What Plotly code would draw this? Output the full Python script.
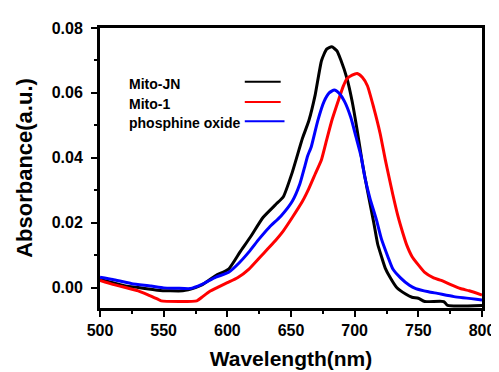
import plotly.graph_objects as go

series_names = ["Mito-JN", "Mito-1", "phosphine oxide"]
series_colors = ["#000000", "#ff0000", "#0000ff"]

jn_x = [500, 510, 520, 530, 545, 555, 565, 575, 580, 591, 601, 610, 618, 628, 638, 644, 651, 659, 664, 669, 674, 678,
        682, 686, 689, 694, 698, 702, 706, 710, 715, 718, 721, 724, 728, 733, 740, 745, 750, 755, 770, 773, 800]
jn_y = [0.0025, 0.0015, 0.0005, 0.0000, -0.0008, -0.0010, -0.0010, 0.0000, 0.0008, 0.0037, 0.0057, 0.0110, 0.0155,
        0.0216, 0.0256, 0.0280, 0.0355, 0.0460, 0.0514, 0.0594, 0.0700, 0.0735, 0.0742, 0.0730, 0.0703, 0.0644,
        0.0574, 0.0484, 0.0385, 0.0300, 0.0200, 0.0135, 0.0096, 0.0060, 0.0030, 0.0000, -0.0020, -0.0030, -0.0033,
        -0.0043, -0.0043, -0.0055, -0.0055]

m1_x = [500, 510, 520, 530, 538, 545, 548, 576, 580, 586, 592, 600, 608, 617, 626, 636, 644, 651, 659, 664, 669, 674,
        678, 682, 687, 691, 694, 698, 702, 706, 710, 715, 720, 724, 727, 730, 734, 738, 741, 745, 750, 755, 762, 768,
        775, 783, 790, 800]
m1_y = [0.0022, 0.0010, 0.0000, -0.0010, -0.0023, -0.0035, -0.0041, -0.0041, -0.0030, -0.0012, 0.0000, 0.0015,
        0.0030, 0.0057, 0.0095, 0.0137, 0.0175, 0.0216, 0.0266, 0.0305, 0.0350, 0.0395, 0.0455, 0.0514, 0.0574,
        0.0620, 0.0644, 0.0655, 0.0660, 0.0648, 0.0622, 0.0554, 0.0475, 0.0395, 0.0340, 0.0286, 0.0220, 0.0166,
        0.0130, 0.0096, 0.0070, 0.0047, 0.0030, 0.0022, 0.0010, -0.0003, -0.0010, -0.0023]

po_x = [500, 510, 525, 540, 550, 560, 571, 580, 591, 601, 609, 617, 625, 633, 642, 651, 657, 661, 663, 666, 671, 676,
        680, 684, 688, 692, 697, 701, 705, 708, 712, 717, 721, 726, 730, 736, 743, 748, 758, 765, 778, 800]
po_y = [0.0032, 0.0025, 0.0012, 0.0005, -0.0001, -0.0002, -0.0003, 0.0010, 0.0032, 0.0047, 0.0075, 0.0110, 0.0150,
        0.0186, 0.0220, 0.0266, 0.0320, 0.0376, 0.0405, 0.0435, 0.0514, 0.0574, 0.0600, 0.0609, 0.0598, 0.0574,
        0.0524, 0.0465, 0.0405, 0.0340, 0.0275, 0.0210, 0.0150, 0.0096, 0.0057, 0.0030, 0.0007, -0.0003, -0.0013,
        -0.0018, -0.0028, -0.0038]

x_range = [500, 800]
y_range = [-0.0063, 0.08]
x_ticks = [500, 550, 600, 650, 700, 750, 800]
y_ticks = [0.00, 0.02, 0.04, 0.06, 0.08]

FONT = "Liberation Sans, Arial, sans-serif"

fig = go.Figure()
for name, color, xs, ys in zip(series_names, series_colors, [jn_x, m1_x, po_x], [jn_y, m1_y, po_y]):
    fig.add_trace(go.Scatter(x=xs, y=ys, mode="lines", name=name,
                             line=dict(color=color, width=3, shape="spline", smoothing=0.5),
                             showlegend=False))

# custom legend: text on the left, line sample on the right
leg_y = [0.80, 0.728, 0.659]
leg_x_end = [0.473, 0.473, 0.483]
for name, color, yy, xe in zip(series_names, series_colors, leg_y, leg_x_end):
    fig.add_annotation(x=0.071, y=yy, xref="paper", yref="paper", text=name, showarrow=False,
                       xanchor="left", yanchor="middle",
                       font=dict(family=FONT, size=14, color="#000000", weight="bold"))
    fig.add_shape(type="line", xref="paper", yref="paper", x0=0.379, x1=xe, y0=yy + 0.008, y1=yy + 0.008,
                  line=dict(color=color, width=2))

fig.update_xaxes(range=x_range, tickvals=x_ticks, ticks="outside", ticklen=6, tickwidth=2, tickcolor="black",
                 showline=True, linewidth=3, linecolor="black", mirror=True, showgrid=False, zeroline=False,
                 tickfont=dict(family=FONT, size=16, color="black", weight="bold"),
                 minor=dict(dtick=25, ticks="outside", ticklen=3, tickwidth=2, tickcolor="black"),
                 title=dict(text="Wavelength(nm)", standoff=14,
                            font=dict(family=FONT, size=21, color="black", weight="bold")))
fig.update_yaxes(range=y_range, tickvals=y_ticks, tickformat=".2f", ticks="outside", ticklen=6, tickwidth=2,
                 tickcolor="black", showline=True, linewidth=3, linecolor="black", mirror=True, showgrid=False,
                 zeroline=False, ticklabelstandoff=5,
                 tickfont=dict(family=FONT, size=16, color="black", weight="bold"),
                 minor=dict(dtick=0.01, tick0=0, ticks="outside", ticklen=3, tickwidth=2, tickcolor="black"),
                 title=dict(text="Absorbance(a.u.)", standoff=13,
                            font=dict(family=FONT, size=22, color="black", weight="bold")))

fig.update_layout(width=499, height=372, margin=dict(l=92, r=14, t=20, b=62),
                  plot_bgcolor="white", paper_bgcolor="white")

fig.write_html("out.html")
